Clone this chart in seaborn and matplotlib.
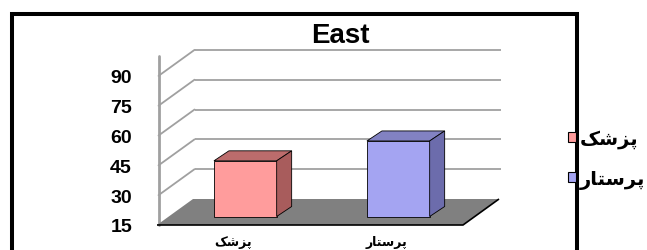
#!/usr/bin/env python3
import pandas as pd
import seaborn as sns
import matplotlib.pyplot as plt
import matplotlib.transforms as mtransforms
from matplotlib.patches import Polygon, Rectangle, Patch, ConnectionPatch

# data
title = "East"
# پزشک , پرستار  (written with Arabic presentation forms, visual order,
# because matplotlib does no Arabic shaping / RTL by itself)
categories = ["\uFB8F\uFEB7\uFEB0\uFB58", "\uFEAD\uFE8E\uFE98\uFEB3\uFEAE\uFB58"]
values = [43, 53]
y_ticks = [15, 30, 45, 60, 75, 90]

front_colors = ["#FF9C9C", "#A4A4F2"]
side_colors = ["#A85C5C", "#6C6CAC"]
top_colors = ["#BC6C6C", "#8282C2"]

W, H = 647, 251
DEPTH = (36, 26)      # px offset front -> back wall
BAR_SHIFT = (11.8, 8.5)  # px offset front plane -> bar plane
BAR_DEPTH = (15, 10)

def main():
    sns.set_theme(style="white")
    plt.rcParams["font.family"] = ["Liberation Sans", "DejaVu Sans"]
    plt.rcParams["text.color"] = "black"
    plt.rcParams["xtick.color"] = "black"
    plt.rcParams["ytick.color"] = "black"

    fig = plt.figure(figsize=(W / 100, H / 100), dpi=100)
    ax = fig.add_axes([157 / W, 25 / H, 306 / W, 169 / H])
    ax.set_xlim(-0.49, 1.51)
    ax.set_ylim(15, 100)
    x0, x1 = ax.get_xlim()
    ybot = y_ticks[0]

    px = fig.dpi_scale_trans
    back = ax.transData + mtransforms.ScaledTranslation(DEPTH[0] / 100, DEPTH[1] / 100, px)
    bar_t = ax.transData + mtransforms.ScaledTranslation(BAR_SHIFT[0] / 100, BAR_SHIFT[1] / 100, px)
    ident = mtransforms.IdentityTransform()

    grid_c = "#A0A0A0"
    # back wall grid lines
    ax.hlines(y_ticks[1:], x0, x1, transform=back, color=grid_c, lw=1.3, clip_on=False, zorder=1)
    # side wall diagonals
    for t in y_ticks[1:]:
        con = ConnectionPatch(xyA=(x0, t), coordsA=ax.transData, xyB=(x0, t), coordsB=back,
                              color=grid_c, lw=1.3, zorder=1)
        ax.add_artist(con)
    # front left edge
    ax.plot([x0, x0], [ybot, 100], color=grid_c, lw=2, clip_on=False, zorder=1)

    # floor
    fl = ax.transData.transform((x0, ybot))
    fr = ax.transData.transform((x1, ybot))
    floor = [fl, fr, (fr[0] + DEPTH[0], fr[1] + DEPTH[1]), (fl[0] + DEPTH[0], fl[1] + DEPTH[1])]
    ax.add_patch(Polygon(floor, closed=True, facecolor="#808080", edgecolor="none",
                         transform=ident, zorder=1.5, clip_on=False))
    ax.add_patch(Polygon([fl, fr, floor[2]], closed=False, fill=False, edgecolor="black",
                         lw=1.2, transform=ident, zorder=1.6, clip_on=False))

    # bars
    df = pd.DataFrame({"cat": categories, "val": values})
    sns.barplot(data=df, x="cat", y="val", hue="cat", palette=front_colors, width=0.41,
                saturation=1, legend=False, edgecolor="black", linewidth=0.6, ax=ax, zorder=3)
    bars = [p for p in ax.patches if isinstance(p, Rectangle)]
    for i, p in enumerate(bars):
        h = p.get_height()
        p.set_y(ybot)
        p.set_height(h - ybot)
        p.set_transform(bar_t)
        p.set_clip_on(False)
        p.set_zorder(3)
        xl, xr = p.get_x(), p.get_x() + p.get_width()
        (dl, db), (dr, dt) = bar_t.transform([(xl, ybot), (xr, h)])
        dx, dy = BAR_DEPTH
        top = [(dl, dt), (dr, dt), (dr + dx, dt + dy), (dl + dx, dt + dy)]
        side = [(dr, db), (dr, dt), (dr + dx, dt + dy), (dr + dx, db + dy)]
        ax.add_patch(Polygon(top, closed=True, facecolor=top_colors[i], edgecolor="black",
                             lw=0.6, transform=ident, zorder=3, clip_on=False))
        ax.add_patch(Polygon(side, closed=True, facecolor=side_colors[i], edgecolor="black",
                             lw=0.6, transform=ident, zorder=3, clip_on=False))

    for s in ax.spines.values():
        s.set_visible(False)
    ax.set_xlabel("")
    ax.set_ylabel("")
    ax.set_yticks(y_ticks)
    ax.set_yticklabels([str(t) for t in y_ticks])
    ax.tick_params(axis="y", length=0, pad=18, labelsize=14)
    ax.tick_params(axis="x", length=0, pad=7, labelsize=9)
    for lbl in ax.get_yticklabels() + ax.get_xticklabels():
        lbl.set_fontweight("bold")
    ax.patch.set_visible(False)

    fig.text(340 / W, 1 - 43 / H, title, ha="center", va="baseline",
             fontsize=20, fontweight="bold")

    # outer chart frame (bottom edge is cut off in the original)
    fig.add_artist(Rectangle((12 / W, -0.1), (577 - 12) / W, 1 - 15 / H + 0.1,
                             transform=fig.transFigure, fill=False, edgecolor="black",
                             lw=2.9, clip_on=False, zorder=5))

    handles = [Patch(facecolor=c, edgecolor="black", lw=0.8) for c in front_colors]
    leg = fig.legend(handles, categories, loc="center left",
                     bbox_to_anchor=(568 / W, 1 - 160 / H), frameon=False,
                     handlelength=0.4, handleheight=0.4, handletextpad=0.2,
                     labelspacing=1.1, borderpad=0, borderaxespad=0,
                     prop={"size": 14, "weight": "bold"})
    leg.set_zorder(6)

    fig.savefig("out.png", dpi=100)

if __name__ == "__main__":
    main()
